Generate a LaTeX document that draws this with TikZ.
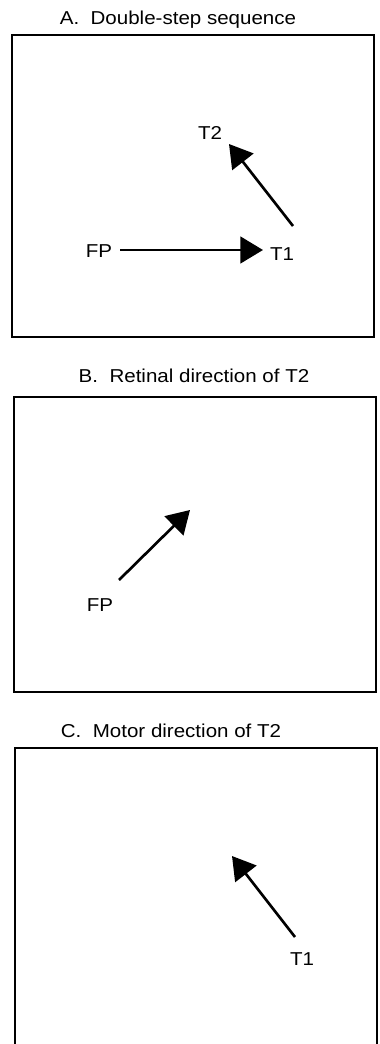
\documentclass[tikz,border=0pt]{standalone}
\usepackage{fontspec}
\usepackage{graphicx}
\setmainfont{Liberation Sans}
\usetikzlibrary{arrows.meta}
\newcommand{\stretchtxt}[1]{\scalebox{1.1}[1]{#1}}
\begin{document}
\begin{tikzpicture}[x=0.75pt,y=-0.75pt,
  panel/.style={line width=2.2pt},
  mover/.style={line width=2pt,-{Triangle[length=17pt,width=20pt]}},
  lbl/.style={font=\fontsize{14}{16}\selectfont,inner sep=0pt,anchor=base},
  ttl/.style={font=\fontsize{14}{16}\selectfont,inner sep=0pt,anchor=base}]
\useasboundingbox (0,0) rectangle (379,1044);
% Panel A
\node[ttl] (ta) at (178,25) {\stretchtxt{A.\ \ Double-step sequence}};
\draw[panel] (12,35) rectangle (374,337);
\node[lbl] (fpa) at (99,258) {\stretchtxt{FP}};
\node[lbl] (t1a) at (282,261) {\stretchtxt{T1}};
\node[lbl] (t2a) at (210,140) {\stretchtxt{T2}};
\coordinate (a1s) at (120,250);
\coordinate (a1e) at (263,250);
\coordinate (a2s) at (293,226);
\coordinate (a2e) at (229,144);
\draw[mover] (a1s) -- (a1e);
\draw[mover] (a2s) -- (a2e);
% Panel B
\node[ttl] (tb) at (194,382) {\stretchtxt{B.\ \ Retinal direction of T2}};
\draw[panel] (14,397) rectangle (376,692);
\node[lbl] (fpb) at (100,611) {\stretchtxt{FP}};
\coordinate (bs) at (119,580);
\coordinate (be) at (190,510);
\draw[mover] (bs) -- (be);
% Panel C
\node[ttl] (tc) at (171,737) {\stretchtxt{C.\ \ Motor direction of T2}};
\draw[panel] (15,1050) -- (15,748) -- (377,748) -- (377,1050);
\node[lbl] (t1c) at (302,965) {\stretchtxt{T1}};
\coordinate (cs) at (295,937);
\coordinate (ce) at (232,856);
\draw[mover] (cs) -- (ce);
\end{tikzpicture}
\end{document}
